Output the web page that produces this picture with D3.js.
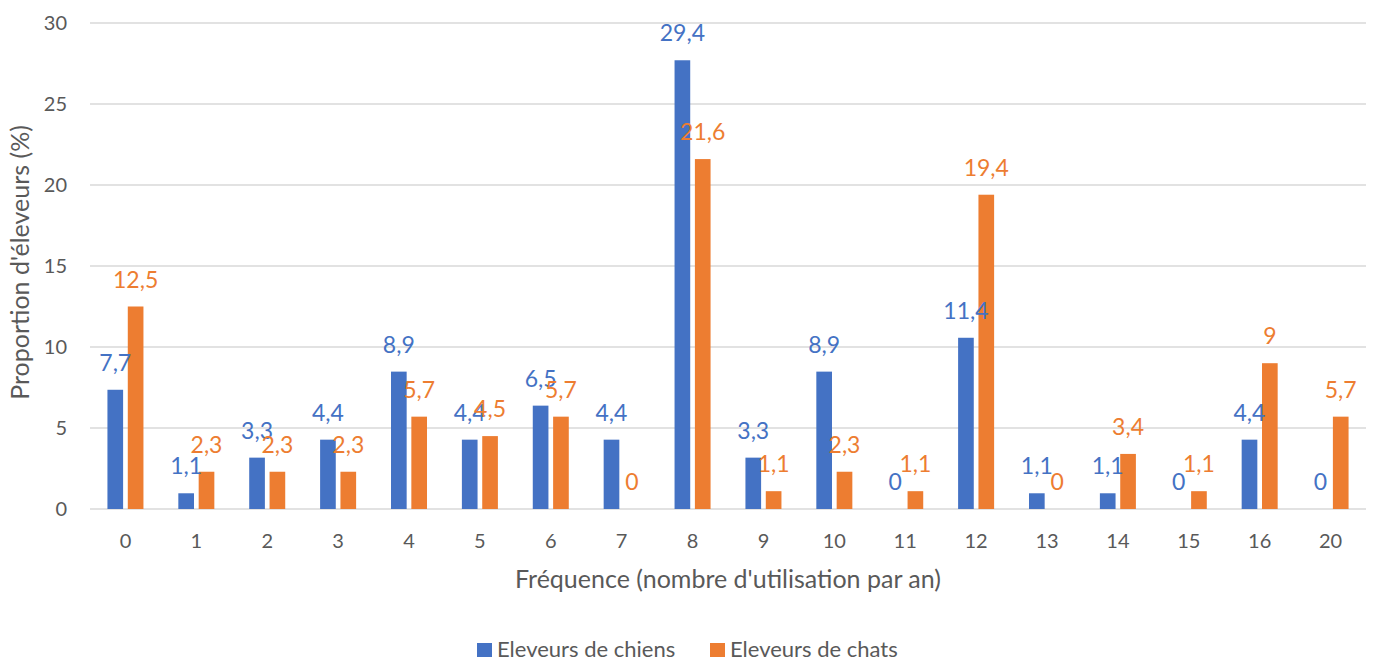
<!DOCTYPE html>
<html>
<head>
<meta charset="utf-8">
<script src="https://cdn.jsdelivr.net/npm/d3@7"></script>
<style>
  html, body { margin: 0; padding: 0; background: #fff; }
  svg { display: block; font-family: Lato, "Open Sans", sans-serif; }
</style>
</head>
<body>
<svg id="chart" width="1376" height="662"></svg>
<script>
// ---- Data ----
const categories = ["0","1","2","3","4","5","6","7","8","9","10","11","12","13","14","15","16","20"];
// Bar heights as drawn (dog series)
const dogValues = [7.36, 0.97, 3.17, 4.28, 8.48, 4.28, 6.38, 4.28, 27.7, 3.17, 8.48, 0, 10.57, 0.97, 0.97, 0, 4.28, 0];
// Data labels printed above dog bars
const dogLabels = [7.7, 1.1, 3.3, 4.4, 8.9, 4.4, 6.5, 4.4, 29.4, 3.3, 8.9, 0, 11.4, 1.1, 1.1, 0, 4.4, 0];
const catValues = [12.5, 2.3, 2.3, 2.3, 5.7, 4.5, 5.7, 0, 21.6, 1.1, 2.3, 1.1, 19.4, 0, 3.4, 1.1, 9, 5.7];
const catLabels = [12.5, 2.3, 2.3, 2.3, 5.7, 4.5, 5.7, 0, 21.6, 1.1, 2.3, 1.1, 19.4, 0, 3.4, 1.1, 9, 5.7];
const yTicks = [0, 5, 10, 15, 20, 25, 30];
const seriesNames = ["Eleveurs de chiens", "Eleveurs de chats"];
const xTitle = "Fréquence (nombre d'utilisation par an)";
const yTitle = "Proportion d'éleveurs (%)";

// ---- Styles ----
const colors = ["#4472C4", "#ED7D31"];
const textGray = "#595959";
const gridColor = "#d9d9d9";

const svg = d3.select("#chart");
const plot = { left: 90, right: 1366, top: 23, bottom: 509 };

const x = d3.scaleBand().domain(categories).range([plot.left, plot.right]).padding(0);
const y = d3.scaleLinear().domain([0, 30]).range([plot.bottom, plot.top]);
const groupW = x.bandwidth() * 0.508;
const xs = d3.scaleBand().domain([0, 1]).range([-groupW / 2, groupW / 2]).paddingInner(0.23).paddingOuter(0);

// Gridlines
svg.append("g").selectAll("line").data(yTicks).join("line")
  .attr("x1", plot.left).attr("x2", plot.right)
  .attr("y1", d => y(d)).attr("y2", d => y(d))
  .attr("stroke", gridColor).attr("stroke-width", 1.5);

// Y tick labels
svg.append("g").selectAll("text").data(yTicks).join("text")
  .attr("x", 67).attr("y", d => y(d)).attr("dy", "0.36em")
  .attr("text-anchor", "end").attr("fill", textGray)
  .attr("font-size", 20).text(d => d);

// X tick labels
svg.append("g").selectAll("text").data(categories).join("text")
  .attr("x", d => x(d) + x.bandwidth() / 2).attr("y", 548)
  .attr("text-anchor", "middle").attr("fill", textGray)
  .attr("font-size", 20).text(d => d);

const series = [
  { vals: dogValues, labels: dogLabels },
  { vals: catValues, labels: catLabels }
];

const fmt = v => String(v).replace(".", ",");

series.forEach((s, si) => {
  const rows = categories.map((c, i) => ({ c, v: s.vals[i], l: s.labels[i] }));
  svg.append("g").selectAll("rect").data(rows).join("rect")
    .attr("x", d => x(d.c) + x.bandwidth() / 2 + xs(si))
    .attr("width", xs.bandwidth())
    .attr("y", d => y(d.v))
    .attr("height", d => y(0) - y(d.v))
    .attr("fill", colors[si]);
});

series.forEach((s, si) => {
  const rows = categories.map((c, i) => ({ c, v: s.vals[i], l: s.labels[i] }));
  svg.append("g").selectAll("text").data(rows).join("text")
    .attr("x", d => x(d.c) + x.bandwidth() / 2 + xs(si) + xs.bandwidth() / 2)
    .attr("y", d => y(d.v) - 19)
    .attr("text-anchor", "middle")
    .attr("fill", colors[si])
    .attr("font-size", 23)
    .text(d => fmt(d.l));
});

// Axis titles
svg.append("text")
  .attr("x", 728).attr("y", 588)
  .attr("text-anchor", "middle").attr("fill", textGray)
  .attr("font-size", 25).text(xTitle);

svg.append("text")
  .attr("transform", "translate(29,262.5) rotate(-90)")
  .attr("text-anchor", "middle").attr("fill", textGray)
  .attr("font-size", 25).text(yTitle);

// Legend
const legendX = [477, 710];
const lg = svg.append("g").selectAll("g").data(seriesNames).join("g")
  .attr("transform", (d, i) => `translate(${legendX[i]},0)`);
lg.append("rect").attr("x", 0).attr("y", 643).attr("width", 15).attr("height", 14)
  .attr("fill", (d, i) => colors[i]);
lg.append("text").attr("x", 20).attr("y", 657)
  .attr("fill", textGray).attr("font-size", 22).text(d => d);
</script>
</body>
</html>
